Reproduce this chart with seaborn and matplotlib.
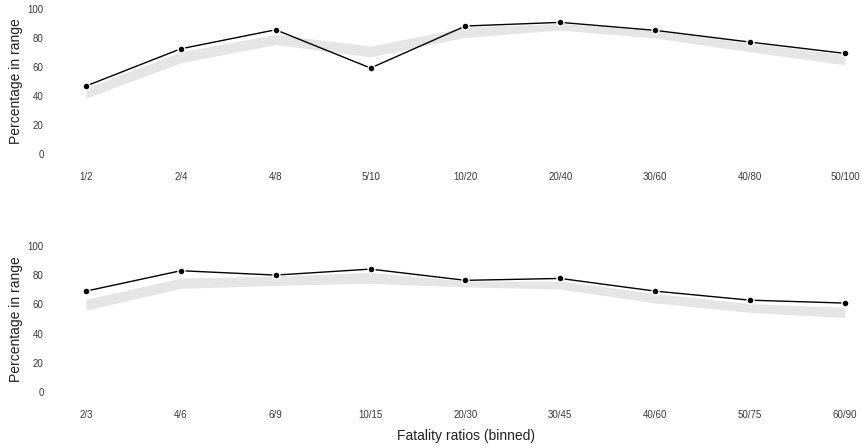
import matplotlib
matplotlib.use("Agg")
import matplotlib.pyplot as plt
import seaborn as sns
import pandas as pd

# ---- data ----
top_bins = ["1/2", "2/4", "4/8", "5/10", "10/20", "20/40", "30/60", "40/80", "50/100"]
top_values = [46.9, 72.6, 85.7, 59.3, 88.3, 90.8, 85.3, 77.2, 69.4]
top_band_low = [38.5, 63.0, 75.5, 67.0, 80.5, 85.5, 80.0, 70.5, 61.5]
top_band_high = [45.5, 70.5, 82.5, 74.5, 87.5, 90.0, 85.0, 76.5, 68.5]

bottom_bins = ["2/3", "4/6", "6/9", "10/15", "20/30", "30/45", "40/60", "50/75", "60/90"]
bottom_values = [69.1, 83.1, 80.1, 84.2, 76.5, 77.8, 69.1, 62.9, 60.9]
bottom_band_low = [56.0, 71.0, 73.0, 74.5, 72.0, 70.5, 61.0, 54.5, 51.0]
bottom_band_high = [63.5, 78.0, 79.5, 82.0, 76.0, 76.0, 67.5, 60.5, 58.0]

yticks = [0, 20, 40, 60, 80, 100]
y_label = "Percentage in range"
x_label = "Fatality ratios (binned)"

sns.set_theme(style="white")
plt.rcParams["font.family"] = ["Liberation Sans", "DejaVu Sans"]

fig = plt.figure(figsize=(8.61, 4.48), dpi=100)
ax_top = fig.add_axes([0.0668, 0.640, 0.931, 0.356])
ax_bot = fig.add_axes([0.0668, 0.109, 0.931, 0.358])

panels = [
    (ax_top, top_bins, top_values, top_band_low, top_band_high, False),
    (ax_bot, bottom_bins, bottom_values, bottom_band_low, bottom_band_high, True),
]

for ax, bins, vals, lo, hi, show_x in panels:
    idx = list(range(len(bins)))
    df = pd.DataFrame({"x": idx, "y": vals})
    ax.fill_between(idx, lo, hi, color="#e5e5e5", linewidth=0, zorder=1)
    sns.lineplot(data=df, x="x", y="y", ax=ax, color="black", linewidth=1.0,
                 marker="o", markersize=5, markeredgecolor="white",
                 markeredgewidth=1.0, markerfacecolor="black", zorder=3)
    ax.set_xlim(-0.3, 8.15)
    ax.set_ylim(-5, 105)
    ax.set_xticks(idx)
    ax.set_xticklabels(bins)
    ax.set_yticks(yticks)
    ax.tick_params(axis="both", length=0, labelsize=7, labelcolor="#3a3a3a")
    ax.tick_params(axis="y", pad=10)
    ax.tick_params(axis="x", pad=8)
    for s in ax.spines.values():
        s.set_visible(False)
    ax.grid(False)
    ax.set_ylabel(y_label, fontsize=10, color="#222222")
    ax.yaxis.label.set_va("center")
    ax.yaxis.set_label_coords(-0.052, 0.5)
    if show_x:
        ax.set_xlabel(x_label, fontsize=10, color="#222222", labelpad=6)
        ax.xaxis.set_label_coords(0.51, -0.2)
        ax.xaxis.label.set_va("center")
        ax.xaxis.set_label_coords(0.51, -0.23)
    else:
        ax.set_xlabel("")

fig.savefig("out.png", dpi=100)
